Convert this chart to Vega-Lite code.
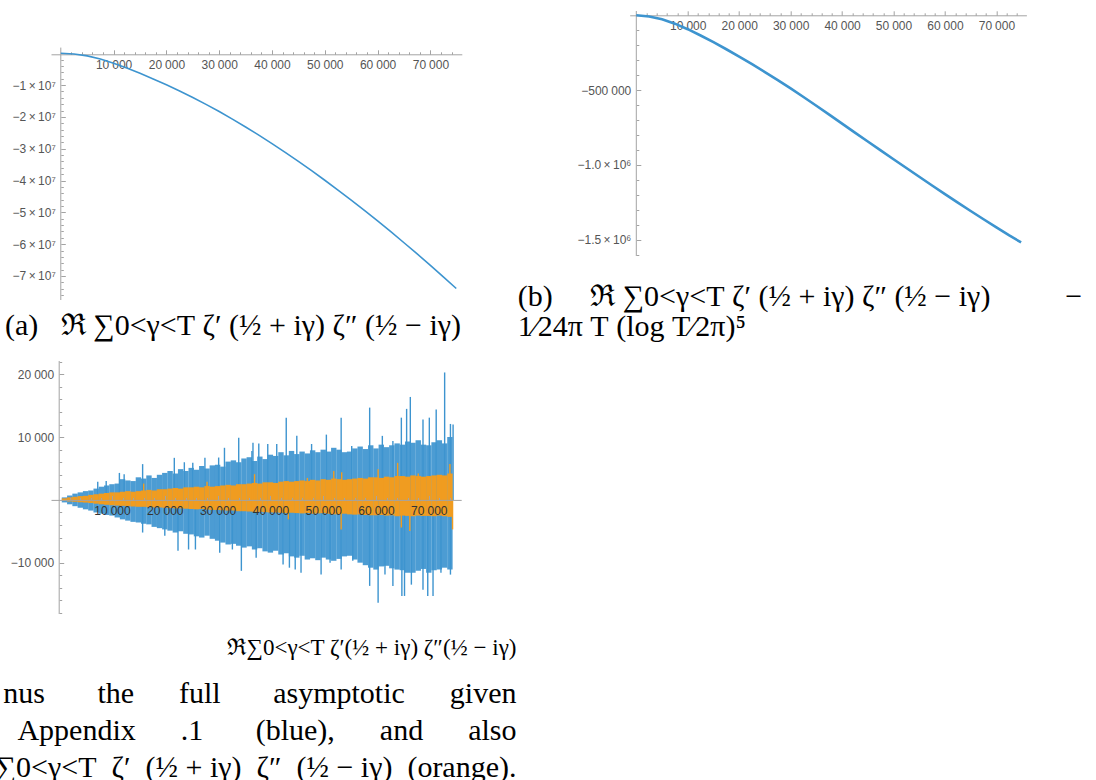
{
  "$schema": "https://vega.github.io/schema/vega-lite/v6.json",
  "background": "white",
  "padding": {"left": -6, "top": 10, "right": 0, "bottom": 0},
  "autosize": {"type": "pad"},
  "config": {
    "view": {"stroke": null},
    "axis": {"grid": false, "domainColor": "#a3a3a3", "tickColor": "#a3a3a3", "labelColor": "#555555", "labelFont": "Liberation Sans", "labelFontSize": 12, "labelFlush": false, "labelOverlap": false, "labelBound": false, "zindex": 1, "tickWidth": 1, "domainWidth": 1},
    "title": {"font": "Liberation Serif", "fontSize": 30, "fontWeight": "normal", "color": "#000000", "subtitleFont": "Liberation Serif", "subtitleFontSize": 30, "subtitleColor": "#000000", "subtitleLineHeight": 37, "subtitlePadding": 19}
  },
  "datasets": {
    "a": [
      {"T": 0, "v": 0}, {"T": 2500, "v": -200000}, {"T": 5000, "v": -800000}, {"T": 7500, "v": -1800000},
      {"T": 10000, "v": -3150000}, {"T": 12500, "v": -4650000}, {"T": 15000, "v": -6300000}, {"T": 17500, "v": -8050000},
      {"T": 20000, "v": -9900000}, {"T": 22500, "v": -11850000}, {"T": 25000, "v": -13900000}, {"T": 27500, "v": -16050000},
      {"T": 30000, "v": -18300000}, {"T": 32500, "v": -20680000}, {"T": 35000, "v": -23160000}, {"T": 37500, "v": -25720000},
      {"T": 40000, "v": -28380000}, {"T": 42500, "v": -31140000}, {"T": 45000, "v": -33980000}, {"T": 47500, "v": -36900000},
      {"T": 50000, "v": -39900000}, {"T": 52500, "v": -42990000}, {"T": 55000, "v": -46140000}, {"T": 57500, "v": -49390000},
      {"T": 60000, "v": -52710000}, {"T": 62500, "v": -56090000}, {"T": 65000, "v": -59550000}, {"T": 67500, "v": -63070000},
      {"T": 70000, "v": -66680000}, {"T": 72500, "v": -70350000}, {"T": 74900, "v": -73930000}
    ],
    "b": [
      {"T": 0, "v": 0}, {"T": 2500, "v": -8000}, {"T": 5000, "v": -27000}, {"T": 7500, "v": -56000},
      {"T": 10000, "v": -93000}, {"T": 12500, "v": -135000}, {"T": 15000, "v": -180000}, {"T": 17500, "v": -227000},
      {"T": 20000, "v": -276000}, {"T": 22500, "v": -327000}, {"T": 25000, "v": -379500}, {"T": 27500, "v": -433500},
      {"T": 30000, "v": -489000}, {"T": 32500, "v": -546000}, {"T": 35000, "v": -604500}, {"T": 37500, "v": -664000},
      {"T": 40000, "v": -724000}, {"T": 42500, "v": -784000}, {"T": 45000, "v": -843500}, {"T": 47500, "v": -903000},
      {"T": 50000, "v": -962000}, {"T": 52500, "v": -1021000}, {"T": 55000, "v": -1079500}, {"T": 57500, "v": -1137500},
      {"T": 60000, "v": -1195000}, {"T": 62500, "v": -1252000}, {"T": 65000, "v": -1308000}, {"T": 67500, "v": -1363500},
      {"T": 70000, "v": -1418000}, {"T": 72500, "v": -1471500}, {"T": 74800, "v": -1518000}
    ],
    "cCore": [
      {"T": 0, "blo": 0, "bhi": 0, "olo": 0, "ohi": 0},
      {"T": 1000, "blo": -400, "bhi": 400, "olo": -150, "ohi": 250},
      {"T": 2000, "blo": -700, "bhi": 700, "olo": -250, "ohi": 400},
      {"T": 3000, "blo": -1000, "bhi": 1000, "olo": -300, "ohi": 500},
      {"T": 4000, "blo": -1250, "bhi": 1200, "olo": -380, "ohi": 600},
      {"T": 5000, "blo": -1500, "bhi": 1400, "olo": -430, "ohi": 650},
      {"T": 6000, "blo": -1700, "bhi": 1500, "olo": -500, "ohi": 800},
      {"T": 7000, "blo": -2000, "bhi": 1800, "olo": -600, "ohi": 900},
      {"T": 8000, "blo": -2200, "bhi": 2100, "olo": -700, "ohi": 1000},
      {"T": 9000, "blo": -2400, "bhi": 2300, "olo": -780, "ohi": 1100},
      {"T": 10000, "blo": -2500, "bhi": 2500, "olo": -850, "ohi": 1200},
      {"T": 11000, "blo": -2800, "bhi": 2600, "olo": -900, "ohi": 1200},
      {"T": 12000, "blo": -3100, "bhi": 3300, "olo": -950, "ohi": 1300},
      {"T": 13000, "blo": -3300, "bhi": 3100, "olo": -1000, "ohi": 1400},
      {"T": 14000, "blo": -3500, "bhi": 3000, "olo": -1050, "ohi": 1300},
      {"T": 15000, "blo": -3600, "bhi": 3600, "olo": -1100, "ohi": 1400},
      {"T": 16000, "blo": -3800, "bhi": 3400, "olo": -1100, "ohi": 1500},
      {"T": 17000, "blo": -3900, "bhi": 3900, "olo": -1150, "ohi": 1600},
      {"T": 18000, "blo": -4300, "bhi": 3500, "olo": -1200, "ohi": 1500},
      {"T": 19000, "blo": -4500, "bhi": 4000, "olo": -1200, "ohi": 1700},
      {"T": 20000, "blo": -4700, "bhi": 4300, "olo": -1250, "ohi": 1700},
      {"T": 21000, "blo": -4900, "bhi": 4600, "olo": -1300, "ohi": 1800},
      {"T": 22000, "blo": -5200, "bhi": 4200, "olo": -1350, "ohi": 1900},
      {"T": 23000, "blo": -5000, "bhi": 4900, "olo": -1350, "ohi": 1800},
      {"T": 24000, "blo": -5400, "bhi": 4600, "olo": -1400, "ohi": 2000},
      {"T": 25000, "blo": -5500, "bhi": 5100, "olo": -1450, "ohi": 2000},
      {"T": 26000, "blo": -5800, "bhi": 4800, "olo": -1500, "ohi": 2100},
      {"T": 27000, "blo": -6000, "bhi": 5400, "olo": -1450, "ohi": 2000},
      {"T": 28000, "blo": -5700, "bhi": 5000, "olo": -1550, "ohi": 2200},
      {"T": 29000, "blo": -6200, "bhi": 5500, "olo": -1600, "ohi": 2100},
      {"T": 30000, "blo": -6500, "bhi": 5600, "olo": -1600, "ohi": 2200},
      {"T": 31000, "blo": -6800, "bhi": 5300, "olo": -1650, "ohi": 2300},
      {"T": 32000, "blo": -7100, "bhi": 6100, "olo": -1700, "ohi": 2400},
      {"T": 33000, "blo": -7000, "bhi": 6300, "olo": -1700, "ohi": 2300},
      {"T": 34000, "blo": -7300, "bhi": 6000, "olo": -1800, "ohi": 2500},
      {"T": 35000, "blo": -7600, "bhi": 6600, "olo": -1800, "ohi": 2500},
      {"T": 36000, "blo": -7400, "bhi": 6800, "olo": -1850, "ohi": 2600},
      {"T": 37000, "blo": -7900, "bhi": 6200, "olo": -1900, "ohi": 2700},
      {"T": 38000, "blo": -7700, "bhi": 6900, "olo": -1900, "ohi": 2600},
      {"T": 39000, "blo": -8200, "bhi": 6500, "olo": -1950, "ohi": 2800},
      {"T": 40000, "blo": -8400, "bhi": 7200, "olo": -2000, "ohi": 2800},
      {"T": 41000, "blo": -8100, "bhi": 7000, "olo": -2000, "ohi": 2700},
      {"T": 42000, "blo": -8700, "bhi": 7600, "olo": -2050, "ohi": 2900},
      {"T": 43000, "blo": -8500, "bhi": 7100, "olo": -2100, "ohi": 3000},
      {"T": 44000, "blo": -9000, "bhi": 7800, "olo": -2050, "ohi": 2900},
      {"T": 45000, "blo": -9200, "bhi": 7300, "olo": -2100, "ohi": 3000},
      {"T": 46000, "blo": -8900, "bhi": 7700, "olo": -2150, "ohi": 3100},
      {"T": 47000, "blo": -9500, "bhi": 7400, "olo": -2100, "ohi": 3000},
      {"T": 48000, "blo": -9300, "bhi": 7900, "olo": -2200, "ohi": 3200},
      {"T": 49000, "blo": -9600, "bhi": 7600, "olo": -2150, "ohi": 3100},
      {"T": 50000, "blo": -9200, "bhi": 8000, "olo": -2100, "ohi": 3300},
      {"T": 51000, "blo": -9500, "bhi": 7700, "olo": -2200, "ohi": 3200},
      {"T": 52000, "blo": -9700, "bhi": 8300, "olo": -2300, "ohi": 3400},
      {"T": 53000, "blo": -9400, "bhi": 8000, "olo": -2250, "ohi": 3300},
      {"T": 54000, "blo": -9000, "bhi": 7600, "olo": -2200, "ohi": 3200},
      {"T": 55000, "blo": -8900, "bhi": 7700, "olo": -2300, "ohi": 3300},
      {"T": 56000, "blo": -9500, "bhi": 8200, "olo": -2350, "ohi": 3400},
      {"T": 57000, "blo": -10000, "bhi": 8500, "olo": -2300, "ohi": 3500},
      {"T": 58000, "blo": -10400, "bhi": 8100, "olo": -2400, "ohi": 3400},
      {"T": 59000, "blo": -10800, "bhi": 8700, "olo": -2450, "ohi": 3600},
      {"T": 60000, "blo": -11100, "bhi": 8200, "olo": -2450, "ohi": 3600},
      {"T": 61000, "blo": -10600, "bhi": 8800, "olo": -2400, "ohi": 3500},
      {"T": 62000, "blo": -10500, "bhi": 8400, "olo": -2500, "ohi": 3700},
      {"T": 63000, "blo": -10900, "bhi": 8700, "olo": -2450, "ohi": 3600},
      {"T": 64000, "blo": -11100, "bhi": 9000, "olo": -2600, "ohi": 3800},
      {"T": 65000, "blo": -11200, "bhi": 8800, "olo": -2500, "ohi": 3800},
      {"T": 66000, "blo": -11600, "bhi": 9300, "olo": -2550, "ohi": 3700},
      {"T": 67000, "blo": -11600, "bhi": 9100, "olo": -2600, "ohi": 3900},
      {"T": 68000, "blo": -11300, "bhi": 9500, "olo": -2500, "ohi": 3800},
      {"T": 69000, "blo": -11000, "bhi": 8800, "olo": -2550, "ohi": 3700},
      {"T": 70000, "blo": -11600, "bhi": 8700, "olo": -2550, "ohi": 3800},
      {"T": 71000, "blo": -11200, "bhi": 9200, "olo": -2600, "ohi": 3900},
      {"T": 72000, "blo": -11100, "bhi": 9500, "olo": -2500, "ohi": 4000},
      {"T": 73000, "blo": -10800, "bhi": 9000, "olo": -2600, "ohi": 3900},
      {"T": 74000, "blo": -11100, "bhi": 10000, "olo": -2700, "ohi": 4200}
    ],
    "cBlueSpikes": [
      {"T": 7300, "v": 2900}, {"T": 8900, "v": 3000}, {"T": 11400, "v": 4300}, {"T": 12300, "v": 4100},
      {"T": 15800, "v": 5700}, {"T": 21800, "v": 6700}, {"T": 23700, "v": 6000}, {"T": 25300, "v": 5900},
      {"T": 27600, "v": 6700}, {"T": 30200, "v": 6750}, {"T": 31300, "v": 8300}, {"T": 34000, "v": 9900},
      {"T": 36500, "v": 7800}, {"T": 36700, "v": 9100}, {"T": 37800, "v": 9000}, {"T": 39500, "v": 8900},
      {"T": 41200, "v": 8900}, {"T": 43000, "v": 13100}, {"T": 45000, "v": 10200}, {"T": 47800, "v": 8900},
      {"T": 50600, "v": 10400}, {"T": 53400, "v": 13100}, {"T": 55400, "v": 8600}, {"T": 58800, "v": 14700},
      {"T": 61200, "v": 10200}, {"T": 63200, "v": 9400}, {"T": 64800, "v": 13100}, {"T": 65800, "v": 14500},
      {"T": 66500, "v": 16400}, {"T": 68900, "v": 12800}, {"T": 70100, "v": 13100}, {"T": 71400, "v": 14400},
      {"T": 73000, "v": 20300}, {"T": 74100, "v": 12100}, {"T": 74600, "v": 12000},
      {"T": 15800, "v": -5200}, {"T": 20000, "v": -5700}, {"T": 22500, "v": -8100}, {"T": 24500, "v": -7900},
      {"T": 25800, "v": -7900}, {"T": 30400, "v": -8400}, {"T": 32800, "v": -7900}, {"T": 34500, "v": -11300},
      {"T": 37300, "v": -9200}, {"T": 42400, "v": -10300}, {"T": 43600, "v": -10800}, {"T": 44700, "v": -11100},
      {"T": 45800, "v": -11600}, {"T": 49600, "v": -11900}, {"T": 51300, "v": -10000}, {"T": 53400, "v": -11100},
      {"T": 55600, "v": -9700}, {"T": 58800, "v": -13700}, {"T": 60400, "v": -16400}, {"T": 61700, "v": -11900},
      {"T": 63200, "v": -13700}, {"T": 64900, "v": -15300}, {"T": 65400, "v": -15300}, {"T": 66700, "v": -13500},
      {"T": 68900, "v": -14300}, {"T": 69800, "v": -15300}, {"T": 70800, "v": -15300}, {"T": 72300, "v": -11600},
      {"T": 74100, "v": -11900}
    ],
    "cOrangeSpikes": [
      {"T": 16000, "v": 2600}, {"T": 28000, "v": 2900}, {"T": 37000, "v": 4100}, {"T": 43400, "v": -3100},
      {"T": 47000, "v": 3500}, {"T": 52000, "v": 4600}, {"T": 53400, "v": -4700}, {"T": 53500, "v": 4400},
      {"T": 60400, "v": 4900}, {"T": 64100, "v": 5900}, {"T": 64800, "v": -4400}, {"T": 66400, "v": -4950},
      {"T": 68000, "v": 4200}, {"T": 74000, "v": 5700}, {"T": 74500, "v": -4700}
    ]
  },
  "bounds": "flush",
  "columns": 2,
  "spacing": {"row": 61, "column": 167.7},
  "concat": [
    {
      "width": 410.8,
      "height": 289,
      "title": {"text": "(a)\u00a0\u00a0\u00a0ℜ\u00a0∑0<γ<T\u00a0ζ′\u00a0(½\u00a0+\u00a0iγ)\u00a0ζ″\u00a0(½\u00a0−\u00a0iγ)", "orient": "bottom", "anchor": "middle", "frame": "group", "dx": -23.4, "offset": 10},
      "resolve": {"axis": {"x": "independent", "y": "independent"}},
      "layer": [
        {
          "data": {"values": [{}]},
          "mark": {"type": "rule", "color": "#a3a3a3", "strokeWidth": 1},
          "encoding": {
            "x": {"datum": 0, "type": "quantitative", "scale": {"domain": [-1856, 75947], "nice": false, "zero": false},
              "axis": {"orient": "bottom", "offset": -245.7, "title": null, "labels": false, "domain": false, "tickSize": -2.5, "values": [2000,4000,6000,8000,12000,14000,16000,18000,22000,24000,26000,28000,32000,34000,36000,38000,42000,44000,46000,48000,52000,54000,56000,58000,62000,64000,66000,68000,72000,74000]}},
            "y": {"datum": -77550000, "type": "quantitative", "scale": {"domain": [-77550000, 13300000], "nice": false, "zero": false},
              "axis": {"orient": "left", "offset": -9.8, "title": null, "labels": false, "domain": false, "tickSize": -2.5, "values": [-76000000,-74000000,-72000000,-68000000,-66000000,-64000000,-62000000,-58000000,-56000000,-54000000,-52000000,-48000000,-46000000,-44000000,-42000000,-38000000,-36000000,-34000000,-32000000,-28000000,-26000000,-24000000,-22000000,-18000000,-16000000,-14000000,-12000000,-8000000,-6000000,-4000000,-2000000]}},
            "y2": {"datum": 1800000}
          }
        },
        {
          "data": {"name": "a"},
          "mark": {"type": "line", "color": "#3d94cf", "strokeWidth": 1.6},
          "encoding": {
            "x": {"field": "T", "type": "quantitative", "scale": {"domain": [-1856, 75947], "nice": false, "zero": false},
              "axis": {"orient": "bottom", "offset": -245.7, "title": null, "values": [10000,20000,30000,40000,50000,60000,70000],
                "labelExpr": "replace(format(datum.value, ','), ',', '\u2005')", "tickSize": -4.5, "labelPadding": 10}},
            "y": {"field": "v", "type": "quantitative", "scale": {"domain": [-77550000, 13300000], "nice": false, "zero": false},
              "axis": {"orient": "left", "offset": -9.8, "domain": false, "title": null, "values": [-70000000,-60000000,-50000000,-40000000,-30000000,-20000000,-10000000],
                "labelExpr": "'−' + format(-datum.value / 10000000, 'd') + '\u2009×\u200910⁷'", "tickSize": -4.5, "labelPadding": 10}}
          }
        }
      ]
    },
    {
      "width": 396.7,
      "height": 245,
      "title": {"text": ["(b)\u00a0\u00a0\u00a0\u00a0\u00a0ℜ\u00a0∑0<γ<T\u00a0ζ′\u00a0(½\u00a0+\u00a0iγ)\u00a0ζ″\u00a0(½\u00a0−\u00a0iγ)\u00a0\u00a0\u00a0\u00a0\u00a0\u00a0\u00a0\u00a0\u00a0\u00a0−", "1⁄24π\u00a0T\u00a0(log\u00a0T⁄2π)⁵"], "orient": "bottom", "anchor": "start", "align": "left", "frame": "group", "dx": -112, "offset": 25, "lineHeight": 30},
      "resolve": {"axis": {"x": "independent", "y": "independent"}},
      "layer": [
        {
          "data": {"values": [{}]},
          "mark": {"type": "rule", "color": "#a3a3a3", "strokeWidth": 1},
          "encoding": {
            "x": {"datum": 0, "type": "quantitative", "scale": {"domain": [-1283, 75830], "nice": false, "zero": false},
              "axis": {"orient": "bottom", "offset": -240.7, "title": null, "labels": false, "domain": false, "tickSize": -2.5, "values": [2000,4000,6000,8000,12000,14000,16000,18000,22000,24000,26000,28000,32000,34000,36000,38000,42000,44000,46000,48000,52000,54000,56000,58000,62000,64000,66000,68000,72000,74000]}},
            "y": {"datum": -1609000, "type": "quantitative", "scale": {"domain": [-1609000, 28700], "nice": false, "zero": false},
              "axis": {"orient": "left", "offset": -6.6, "title": null, "labels": false, "domain": false, "tickSize": -2.5, "values": [-1600000,-1400000,-1300000,-1200000,-1100000,-900000,-800000,-700000,-600000,-400000,-300000,-200000,-100000]}},
            "y2": {"datum": 28700}
          }
        },
        {
          "data": {"name": "b"},
          "mark": {"type": "line", "color": "#3d94cf", "strokeWidth": 2.6},
          "encoding": {
            "x": {"field": "T", "type": "quantitative", "scale": {"domain": [-1283, 75830], "nice": false, "zero": false},
              "axis": {"orient": "bottom", "offset": -240.7, "title": null, "values": [10000,20000,30000,40000,50000,60000,70000],
                "labelExpr": "replace(format(datum.value, ','), ',', '\u2005')", "tickSize": -4.5, "labelPadding": 10}},
            "y": {"field": "v", "type": "quantitative", "scale": {"domain": [-1609000, 28700], "nice": false, "zero": false},
              "axis": {"orient": "left", "offset": -6.6, "domain": false, "title": null, "values": [-1500000,-1000000,-500000],
                "labelExpr": "datum.value === -500000 ? '−500\u2005000' : datum.value === -1000000 ? '−1.0\u2009×\u200910⁶' : '−1.5\u2009×\u200910⁶'", "tickSize": -4.5, "labelPadding": 10}}
          }
        }
      ]
    },
    {
      "width": 410.2,
      "height": 253,
      "title": {"text": "ℜ∑0<γ<T ζ′(½ + iγ) ζ″(½ − iγ)", "fontSize": 23, "subtitle": ["nus\u00a0\u00a0\u00a0\u00a0\u00a0\u00a0\u00a0the\u00a0\u00a0\u00a0\u00a0\u00a0\u00a0full\u00a0\u00a0\u00a0\u00a0\u00a0\u00a0\u00a0asymptotic\u00a0\u00a0\u00a0\u00a0\u00a0\u00a0given", "Appendix\u00a0\u00a0\u00a0\u00a0\u00a0\u00a0.1\u00a0\u00a0\u00a0\u00a0\u00a0\u00a0\u00a0(blue),\u00a0\u00a0\u00a0\u00a0\u00a0\u00a0and\u00a0\u00a0\u00a0\u00a0\u00a0\u00a0also", "∑0<γ<T\u00a0\u00a0ζ′\u00a0\u00a0(½\u00a0+\u00a0iγ)\u00a0\u00a0ζ″\u00a0\u00a0(½\u00a0−\u00a0iγ)\u00a0\u00a0(orange).\u00a0\u00a0\u00a0"], "orient": "bottom", "anchor": "end", "align": "right", "frame": "group", "dx": 55.3, "offset": 22},
      "resolve": {"axis": {"x": "independent", "y": "independent"}},
      "layer": [
        {
          "data": {"values": [{}]},
          "mark": {"type": "rule", "color": "#a3a3a3", "strokeWidth": 1},
          "encoding": {
            "x": {"datum": 0, "type": "quantitative", "scale": {"domain": [-1553, 76136], "nice": false, "zero": false},
              "axis": {"orient": "bottom", "offset": -114.1, "zindex": 2, "title": null, "labels": false, "domain": false, "tickSize": -2.5, "values": [2000,4000,6000,8000,12000,14000,16000,18000,22000,24000,26000,28000,32000,34000,36000,38000,42000,44000,46000,48000,52000,54000,56000,58000,62000,64000,66000,68000,72000,74000]}},
            "y": {"datum": -18175, "type": "quantitative", "scale": {"domain": [-18175, 22125], "nice": false, "zero": false},
              "axis": {"orient": "left", "offset": -8.2, "zindex": 2, "title": null, "labels": false, "domain": false, "tickSize": -2.5, "values": [-18000,-16000,-14000,-12000,-8000,-6000,-4000,-2000,2000,4000,6000,8000,12000,14000,16000,18000,22000]}},
            "y2": {"datum": 22125}
          }
        },
        {
          "data": {"name": "cCore"},
          "mark": {"type": "rule", "color": "#3d94cf", "strokeWidth": 5.4, "opacity": 0.92},
          "encoding": {
            "x": {"field": "T", "type": "quantitative", "scale": {"domain": [-1553, 76136], "nice": false, "zero": false},
              "axis": {"orient": "bottom", "offset": -114.1, "zindex": 2, "title": null, "labelColor": "#333333", "values": [10000,20000,30000,40000,50000,60000,70000],
                "labelExpr": "replace(format(datum.value, ','), ',', '\u2005')", "tickSize": -4.5, "labelPadding": 10}},
            "y": {"field": "blo", "type": "quantitative", "scale": {"domain": [-18175, 22125], "nice": false, "zero": false},
              "axis": {"orient": "left", "offset": -8.2, "zindex": 2, "domain": false, "title": null, "values": [-10000,10000,20000],
                "labelExpr": "replace(format(datum.value, ','), ',', '\u2005')", "tickSize": -4.5, "labelPadding": 10}},
            "y2": {"field": "bhi"}
          }
        },
        {
          "data": {"name": "cBlueSpikes"},
          "mark": {"type": "rule", "color": "#3d94cf", "strokeWidth": 1.4},
          "encoding": {
            "x": {"field": "T", "type": "quantitative", "scale": {"domain": [-1553, 76136], "nice": false, "zero": false}, "axis": null},
            "y": {"field": "v", "type": "quantitative", "scale": {"domain": [-18175, 22125], "nice": false, "zero": false}, "axis": null},
            "y2": {"datum": 0}
          }
        },
        {
          "data": {"name": "cCore"},
          "mark": {"type": "rule", "color": "#f09c20", "strokeWidth": 5.4},
          "encoding": {
            "x": {"field": "T", "type": "quantitative", "scale": {"domain": [-1553, 76136], "nice": false, "zero": false}, "axis": null},
            "y": {"field": "olo", "type": "quantitative", "scale": {"domain": [-18175, 22125], "nice": false, "zero": false}, "axis": null},
            "y2": {"field": "ohi"}
          }
        },
        {
          "data": {"name": "cOrangeSpikes"},
          "mark": {"type": "rule", "color": "#f09c20", "strokeWidth": 1.4},
          "encoding": {
            "x": {"field": "T", "type": "quantitative", "scale": {"domain": [-1553, 76136], "nice": false, "zero": false}, "axis": null},
            "y": {"field": "v", "type": "quantitative", "scale": {"domain": [-18175, 22125], "nice": false, "zero": false}, "axis": null},
            "y2": {"datum": 0}
          }
        }
      ]
    }
  ]
}
